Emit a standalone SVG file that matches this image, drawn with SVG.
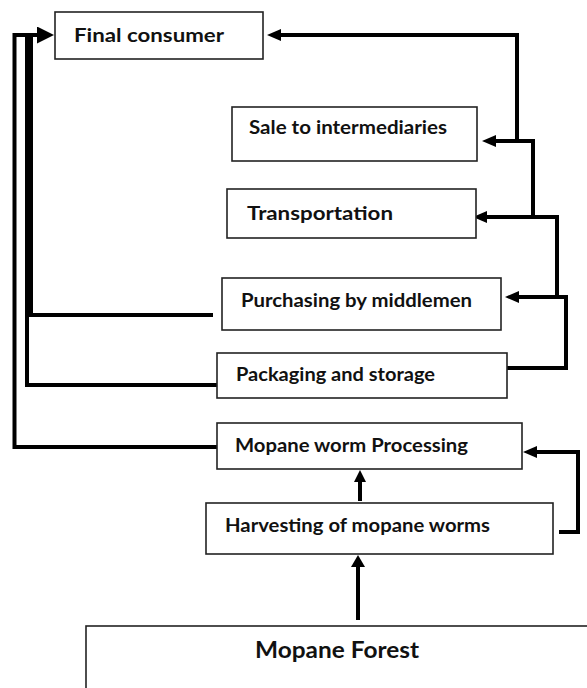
<svg xmlns="http://www.w3.org/2000/svg" width="587" height="688" viewBox="0 0 587 688">
<style>
.box{fill:#fff;stroke:#222;stroke-width:1.6}
.lbl{font-family:Lato,"Open Sans","Liberation Sans",sans-serif;font-weight:bold;font-size:19.5px;fill:#111}
.big{font-size:22px}
.c{fill:none;stroke:#000;stroke-width:4;stroke-linejoin:miter}
</style>
<defs>
<marker id="ah" markerUnits="userSpaceOnUse" markerWidth="14" markerHeight="12" refX="4" refY="6" orient="auto">
<path d="M0,0 L14,6 L0,12 Z" fill="#000"/>
</marker>
<marker id="ahL" markerUnits="userSpaceOnUse" markerWidth="17" markerHeight="17" refX="5" refY="8.5" orient="auto">
<path d="M0,0 L17,8.5 L0,17 Z" fill="#000"/>
</marker>
<marker id="ahU" markerUnits="userSpaceOnUse" markerWidth="12" markerHeight="12" refX="4" refY="6" orient="auto">
<path d="M0,0 L12,6 L0,12 Z" fill="#000"/>
</marker>
<marker id="ahB" markerUnits="userSpaceOnUse" markerWidth="12" markerHeight="14" refX="2" refY="7" orient="auto">
<path d="M0,0 L12,7 L0,14 Z" fill="#000"/>
</marker>
</defs>
<rect width="587" height="688" fill="#fff"/>
<g id="connectors">
<path class="c" d="M218,447 H14.5 V35 H42" marker-end="url(#ahL)"/>
<path class="c" d="M217,385 H27 V35" stroke-width="5"/>
<path class="c" d="M213,315 H31 V35" stroke-width="5"/>
<path class="c" d="M507,368 H566 V297 H515" marker-end="url(#ah)"/>
<path class="c" d="M557,297 V217 H483" marker-end="url(#ah)"/>
<path class="c" d="M533,217 V141 H492" marker-end="url(#ah)"/>
<path class="c" d="M517,141 V35 H277" marker-end="url(#ah)"/>
<path class="c" d="M559,532 H578 V452 H533" marker-end="url(#ah)"/>
<path class="c" d="M360,501 V478" stroke-width="6" marker-end="url(#ahU)"/>
<path class="c" d="M358,620 V565" stroke-width="9" marker-end="url(#ahB)"/>
</g>
<g id="final-consumer">
<rect class="box" x="55" y="12" width="208" height="47"/>
<text class="lbl" x="74" y="42" textLength="150" lengthAdjust="spacingAndGlyphs">Final consumer</text>
</g>
<g id="sale">
<rect class="box" x="232" y="107" width="245" height="54"/>
<text class="lbl" x="249" y="134" textLength="198" lengthAdjust="spacingAndGlyphs">Sale to intermediaries</text>
</g>
<g id="transportation">
<rect class="box" x="227" y="189" width="249" height="49"/>
<text class="lbl" x="247" y="220" textLength="146" lengthAdjust="spacingAndGlyphs">Transportation</text>
</g>
<g id="purchasing">
<rect class="box" x="222" y="278" width="279" height="52"/>
<text class="lbl" x="241" y="307" textLength="231" lengthAdjust="spacingAndGlyphs">Purchasing by middlemen</text>
</g>
<g id="packaging">
<rect class="box" x="217" y="353" width="290" height="45"/>
<text class="lbl" x="236" y="381" textLength="199" lengthAdjust="spacingAndGlyphs">Packaging and storage</text>
</g>
<g id="processing">
<rect class="box" x="217" y="423" width="305" height="46"/>
<text class="lbl" x="235" y="452" textLength="233" lengthAdjust="spacingAndGlyphs">Mopane worm Processing</text>
</g>
<g id="harvesting">
<rect class="box" x="206" y="503" width="347" height="51"/>
<text class="lbl" x="225" y="532" textLength="265" lengthAdjust="spacingAndGlyphs">Harvesting of mopane worms</text>
</g>
<g id="forest">
<rect class="box" x="86" y="626" width="530" height="100"/>
<text class="lbl big" x="255" y="658" textLength="164" lengthAdjust="spacingAndGlyphs">Mopane Forest</text>
</g>
</svg>
